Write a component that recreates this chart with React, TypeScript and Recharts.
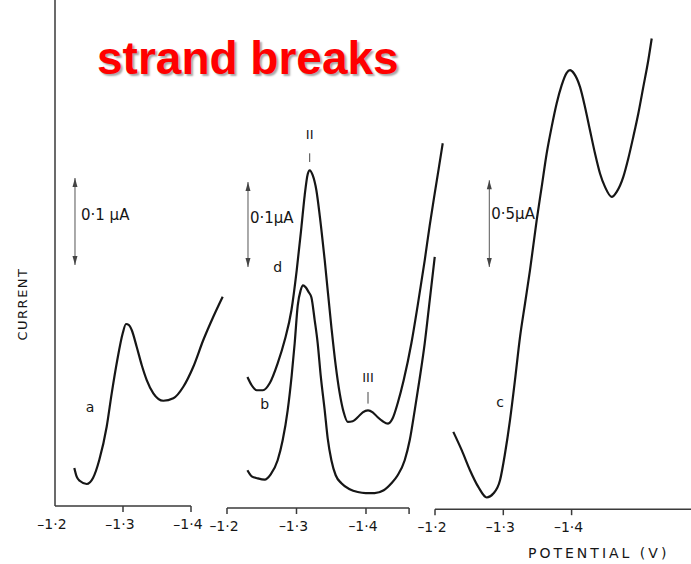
import React from 'react';
import { LineChart, Line, XAxis, YAxis, ReferenceLine, ReferenceDot } from 'recharts';

const INK = '#161616';
const AXIS = '#3a3a3a';
const FONT = '"DejaVu Sans", "Noto Sans", sans-serif';

// curve a: potential (−V) and current (µA, above the baseline)
const potentialA = [1.2284, 1.2319, 1.2368, 1.2466, 1.2559, 1.2651, 1.276, 1.2834, 1.2916, 1.2996, 1.3044, 1.3088, 1.3128, 1.3201, 1.3275, 1.3349, 1.3446, 1.3593, 1.374, 1.3887, 1.4034, 1.4181, 1.4328, 1.4466];
const currentA = [0.0437, 0.0337, 0.0287, 0.0253, 0.0322, 0.0529, 0.0911, 0.1295, 0.1678, 0.1985, 0.2092, 0.208, 0.2023, 0.1831, 0.1621, 0.1448, 0.1295, 0.121, 0.1238, 0.1371, 0.1601, 0.1908, 0.2176, 0.2406];

// curve d (upper, middle panel)
const potentialD = [1.2294, 1.2355, 1.2427, 1.2518, 1.2614, 1.2729, 1.283, 1.2927, 1.3003, 1.3071, 1.3118, 1.3161, 1.319, 1.3233, 1.3286, 1.3334, 1.3406, 1.3502, 1.3564, 1.3622, 1.3679, 1.3737, 1.3809, 1.3881, 1.3953, 1.4029, 1.4097, 1.4169, 1.4241, 1.4317, 1.4384, 1.4456, 1.4542, 1.4653, 1.4744, 1.4845, 1.4917, 1.4989, 1.5047, 1.5104];
const currentD = [0.1541, 0.1444, 0.1385, 0.1385, 0.1467, 0.1702, 0.1973, 0.2326, 0.2796, 0.3306, 0.3679, 0.3926, 0.3973, 0.3915, 0.3738, 0.3444, 0.2915, 0.2129, 0.1679, 0.1349, 0.1126, 0.1012, 0.102, 0.1067, 0.1126, 0.1149, 0.1126, 0.1067, 0.102, 0.0993, 0.1055, 0.1232, 0.1502, 0.1938, 0.2384, 0.2914, 0.3326, 0.3702, 0.3996, 0.4291];

// curve b (lower, middle panel)
const potentialB = [1.2294, 1.2355, 1.2441, 1.2542, 1.2629, 1.2729, 1.2801, 1.2873, 1.2931, 1.2974, 1.3018, 1.306, 1.3094, 1.3132, 1.3176, 1.3214, 1.3262, 1.3305, 1.3348, 1.3406, 1.3449, 1.3502, 1.3564, 1.3646, 1.3766, 1.3881, 1.3996, 1.4125, 1.4255, 1.4366, 1.4456, 1.4557, 1.4629, 1.4701, 1.4773, 1.4845, 1.4917, 1.4989];
const currentB = [0.0444, 0.0373, 0.0349, 0.0334, 0.0396, 0.0562, 0.0796, 0.1149, 0.1561, 0.1938, 0.2384, 0.2561, 0.262, 0.2596, 0.2538, 0.2479, 0.2208, 0.1938, 0.1561, 0.1149, 0.082, 0.0562, 0.0385, 0.0291, 0.022, 0.0188, 0.0176, 0.0176, 0.0208, 0.0291, 0.0385, 0.0562, 0.0796, 0.1149, 0.1526, 0.1938, 0.2444, 0.2953];

// curve c (right panel)
const potentialC = [1.2268, 1.2391, 1.2512, 1.2634, 1.2757, 1.2854, 1.2952, 1.3025, 1.3098, 1.3171, 1.3245, 1.3318, 1.3391, 1.3489, 1.3562, 1.3635, 1.3708, 1.3781, 1.3855, 1.3928, 1.3977, 1.4035, 1.4123, 1.4196, 1.4269, 1.4343, 1.4416, 1.4489, 1.4587, 1.466, 1.4757, 1.483, 1.4903, 1.4977, 1.505, 1.5123, 1.5173];
const currentC = [0.4458, 0.3403, 0.2249, 0.1286, 0.0675, 0.0905, 0.1672, 0.3212, 0.5133, 0.7439, 0.9937, 1.1863, 1.3783, 1.6667, 1.8587, 2.0513, 2.2047, 2.3397, 2.4452, 2.5161, 2.5317, 2.5127, 2.4354, 2.3201, 2.1857, 2.0513, 1.936, 1.8587, 1.801, 1.8299, 1.9164, 2.0225, 2.1471, 2.282, 2.4354, 2.5894, 2.7145];

const ticksA = [1.2, 1.3, 1.4];
const ticksBD = [1.2, 1.3, 1.4, 1.462];
const ticksC = [1.2, 1.3, 1.4];

const toRows = (v: number[], i: number[]) => v.map((p, k) => ({ v: p, i: i[k] }));
const fmt = (v: number) => `–${v.toFixed(1).replace('.', '·')}`;

type Panel = { left: number; pxPerV: number; pxPerUnit: number; baseline: number; vMax: number; iMax: number };

const panelA: Panel = { left: 55, pxPerV: 680, pxPerUnit: 870, baseline: 506, vMax: 1.45, iMax: 0.6 };
const panelBD: Panel = { left: 227.3, pxPerV: 695, pxPerUnit: 850, baseline: 507.7, vMax: 1.52, iMax: 0.6 };
const panelC: Panel = { left: 435, pxPerV: 683, pxPerUnit: 173.4, baseline: 509, vMax: 1.575, iMax: 3.0 };

const AXIS_H = 40;
const PAD = 24; // room left of each plot for the first tick label

const makeTick = (labelled: number[], lined: number[]) => (props: any) => {
  const { x, y, payload } = props;
  const v = payload.value;
  return (
    <g>
      {lined.includes(v) && <line x1={x} x2={x} y1={y} y2={y + 6} stroke={AXIS} strokeWidth={1.5} />}
      {labelled.includes(v) && (
        <text x={x - 3} y={y + 18} textAnchor="middle" dominantBaseline="central" fontSize={14} fill={INK} fontFamily={FONT}>
          {fmt(v)}
        </text>
      )}
    </g>
  );
};

const scaleBar = (text: string, dx: number, dy: number) => (props: any) => {
  const { x1, y1, y2 } = props;
  const top = Math.min(y1, y2);
  const bot = Math.max(y1, y2);
  return (
    <g>
      <line x1={x1} x2={x1} y1={top} y2={bot} stroke="#555" strokeWidth={1} />
      <path d={`M${x1},${top} l-2.5,9 l5,0 z`} fill="#444" />
      <path d={`M${x1},${bot} l-2.5,-9 l5,0 z`} fill="#444" />
      <text x={x1 + dx} y={(top + bot) / 2 + dy} dominantBaseline="central" fontSize={15} fill={INK} fontFamily={FONT}>
        {text}
      </text>
    </g>
  );
};

const textMark = (text: string, size = 14) => (props: any) => (
  <text x={props.cx} y={props.cy} textAnchor="middle" dominantBaseline="central" fontSize={size} fill={INK} fontFamily={FONT}>
    {text}
  </text>
);

function PanelChart({ panel, children }: { panel: Panel; children: React.ReactNode }) {
  const width = (panel.vMax - 1.2) * panel.pxPerV;
  const plotH = panel.iMax * panel.pxPerUnit;
  const top = panel.baseline - plotH;
  return (
    <div style={{ position: 'absolute', left: panel.left - PAD, top }}>
      <LineChart width={width + PAD} height={plotH + AXIS_H} margin={{ top: 0, right: 0, bottom: 0, left: PAD }}>
        {children}
      </LineChart>
    </div>
  );
}

export default function App() {
  const rowsA = toRows(potentialA, currentA);
  const rowsB = toRows(potentialB, currentB);
  const rowsD = toRows(potentialD, currentD);
  const rowsC = toRows(potentialC, currentC);

  const xCommon = {
    type: 'number' as const,
    dataKey: 'v',
    height: AXIS_H,
    axisLine: false,
    tickLine: false,
    tickSize: 0,
    tickMargin: 0,
    interval: 0 as const,
    allowDuplicatedCategory: false,
  };

  return (
    <div style={{ position: 'absolute', left: 0, top: 0, width: 691, height: 564, overflow: 'hidden', background: '#fff' }}>
      {/* panel a */}
      <PanelChart panel={panelA}>
        <XAxis {...xCommon} domain={[1.2, panelA.vMax]} ticks={ticksA} tick={makeTick([1.2, 1.3, 1.4], [1.3, 1.4])} />
        <YAxis hide type="number" domain={[0, panelA.iMax]} />
        <ReferenceLine x={1.2} stroke={AXIS} strokeWidth={1.5} />
        <ReferenceLine segment={[{ x: 1.2, y: 0 }, { x: 1.4, y: 0 }]} stroke={AXIS} strokeWidth={1.5} />
        <ReferenceLine segment={[{ x: 1.2294, y: 0.277 }, { x: 1.2294, y: 0.377 }]} shape={scaleBar('0·1 µA', 6, -7)} />
        <ReferenceDot x={1.2515} y={0.1138} r={0} shape={textMark('a')} />
        <Line data={rowsA} dataKey="i" type="monotone" stroke={INK} strokeWidth={2.2} dot={false} isAnimationActive={false} />
      </PanelChart>

      {/* panel b, d */}
      <PanelChart panel={panelBD}>
        <XAxis {...xCommon} domain={[1.2, panelBD.vMax]} ticks={ticksBD} tick={makeTick([1.2, 1.3, 1.4], ticksBD)} />
        <YAxis hide type="number" domain={[0, panelBD.iMax]} />
        <ReferenceLine segment={[{ x: 1.2, y: 0 }, { x: 1.462, y: 0 }]} stroke={AXIS} strokeWidth={1.5} />
        <ReferenceLine segment={[{ x: 1.2302, y: 0.2835 }, { x: 1.2302, y: 0.3835 }]} shape={scaleBar('0·1µA', 2, -7)} />
        <ReferenceDot x={1.273} y={0.2835} r={0} shape={textMark('d')} />
        <ReferenceDot x={1.2542} y={0.1228} r={0} shape={textMark('b')} />
        <ReferenceDot x={1.319} y={0.4396} r={0} shape={textMark('II', 13)} />
        <ReferenceLine segment={[{ x: 1.319, y: 0.4173 }, { x: 1.319, y: 0.4071 }]} stroke="#444" strokeWidth={1} />
        <ReferenceDot x={1.4029} y={0.1541} r={0} shape={textMark('III', 13)} />
        <ReferenceLine segment={[{ x: 1.4029, y: 0.1365 }, { x: 1.4029, y: 0.1228 }]} stroke="#444" strokeWidth={1} />
        <Line data={rowsD} dataKey="i" type="monotone" stroke={INK} strokeWidth={2.2} dot={false} isAnimationActive={false} />
        <Line data={rowsB} dataKey="i" type="monotone" stroke={INK} strokeWidth={2.2} dot={false} isAnimationActive={false} />
      </PanelChart>

      {/* panel c */}
      <PanelChart panel={panelC}>
        <XAxis {...xCommon} domain={[1.2, panelC.vMax]} ticks={ticksC} tick={makeTick([1.2, 1.3, 1.4], ticksC)} />
        <YAxis hide type="number" domain={[0, panelC.iMax]} />
        <ReferenceLine segment={[{ x: 1.2, y: 0 }, { x: panelC.vMax, y: 0 }]} stroke={AXIS} strokeWidth={1.5} />
        <ReferenceLine segment={[{ x: 1.2795, y: 1.397 }, { x: 1.2795, y: 1.897 }]} shape={scaleBar('0·5µA', 2, -10)} />
        <ReferenceDot x={1.2952} y={0.619} r={0} shape={textMark('c')} />
        <Line data={rowsC} dataKey="i" type="monotone" stroke={INK} strokeWidth={2.2} dot={false} isAnimationActive={false} />
      </PanelChart>

      <svg width={691} height={564} style={{ position: 'absolute', left: 0, top: 0, pointerEvents: 'none' }}>
        <text x={22} y={304} transform="rotate(-90 22 304)" textAnchor="middle" dominantBaseline="central" fontSize={13} letterSpacing={1.5} fill={INK} fontFamily={FONT}>
          CURRENT
        </text>
        <text x={528} y={553} dominantBaseline="central" fontSize={14} letterSpacing={3} fill={INK} fontFamily={FONT}>
          POTENTIAL (V)
        </text>
      </svg>

      <div
        style={{
          position: 'absolute',
          left: 97,
          top: 35,
          fontFamily: '"Liberation Sans", Arial, sans-serif',
          fontWeight: 'bold',
          fontSize: 46,
          lineHeight: '46px',
          color: '#ff0000',
          textShadow: '2px 2px 2px rgba(0,0,0,0.35)',
          whiteSpace: 'nowrap',
        }}
      >
        strand breaks
      </div>
    </div>
  );
}
